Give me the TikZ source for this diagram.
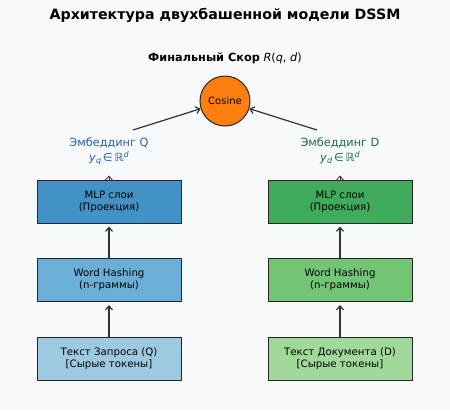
\documentclass[tikz,border=0pt]{standalone}
\usepackage{fontspec}
\setmainfont{DejaVu Sans}
\usepackage{xcolor}
\usetikzlibrary{arrows.meta}

\definecolor{bgcol}{HTML}{F8F9FA}
\definecolor{qtop}{HTML}{4292C6}
\definecolor{qmid}{HTML}{6BAED6}
\definecolor{qlow}{HTML}{9ECAE1}
\definecolor{dtop}{HTML}{41AB5D}
\definecolor{dmid}{HTML}{74C476}
\definecolor{dlow}{HTML}{A1D99B}
\definecolor{qtext}{HTML}{2660AA}
\definecolor{dtext}{HTML}{1B6E3C}
\definecolor{orng}{HTML}{FF7F0E}
\definecolor{arr}{HTML}{333333}

\newcommand{\emb}[1]{\textit{y}\raisebox{-2pt}{\footnotesize\textit{#1}}\,∈\,ℝ\raisebox{4pt}{\footnotesize\textit{d}}}

\begin{document}
\begin{tikzpicture}[x=1pt,y=-1pt,
    box/.style={draw=black!85, line width=1pt, minimum width=144pt, minimum height=43pt,
        inner sep=0pt, align=center, font=\fontsize{10.2}{12}\selectfont},
    lbl/.style={align=center, font=\fontsize{11.3}{15}\selectfont},
    arw/.style={draw=arr, line width=1.2pt, -{Straight Barb[length=4pt,width=7pt]}}]
    \fill[bgcol] (0,0) rectangle (450,410);
    \useasboundingbox (0,0) rectangle (450,410);
    \node (title) at (225,15) {\fontsize{14.2}{16}\selectfont\bfseries Архитектура двухбашенной модели DSSM};
    \node (score) at (225,58) {\fontsize{11.3}{13}\selectfont\textbf{Финальный Скор} \textit{R}(\textit{q}, \textit{d})};
    \node[circle, draw=black!85, line width=1pt, fill=orng, minimum size=50pt, inner sep=0pt,
        font=\fontsize{10}{12}\selectfont] (cos) at (225,101) {Cosine};
    % query tower
    \node[box, fill=qlow] (qtxt) at (109,358.5) {Текст Запроса (Q)\\{[}Сырые токены{]}};
    \node[box, fill=qmid] (qhash) at (109,280) {Word Hashing\\(n-граммы)};
    \node[box, fill=qtop] (qmlp) at (109,201.5) {MLP слои\\(Проекция)};
    \node[lbl, text=qtext] (qemb) at (109,151) {Эмбеддинг Q\\\emb{q}};
    % document tower
    \node[box, fill=dlow] (dtxt) at (340,358.5) {Текст Документа (D)\\{[}Сырые токены{]}};
    \node[box, fill=dmid] (dhash) at (340,280) {Word Hashing\\(n-граммы)};
    \node[box, fill=dtop] (dmlp) at (340,201.5) {MLP слои\\(Проекция)};
    \node[lbl, text=dtext] (demb) at (340,151) {Эмбеддинг D\\\emb{d}};
    \coordinate (qtail) at (133,130);
    \coordinate (dtail) at (317,130);
    \coordinate (qtop) at (109,175.5);
    \coordinate (dtop) at (340,175.5);
    \draw[arw, shorten >=3pt] (qtxt) -- (qhash);
    \draw[arw, shorten >=3pt] (qhash) -- (qmlp);
    \draw[arw, line width=0.8pt] (qmlp) -- (qtop);
    \draw[arw, shorten >=3pt] (dtxt) -- (dhash);
    \draw[arw, shorten >=3pt] (dhash) -- (dmlp);
    \draw[arw, line width=0.8pt] (dmlp) -- (dtop);
    \draw[arw] (qtail) -- (cos);
    \draw[arw] (dtail) -- (cos);
\end{tikzpicture}
\end{document}
